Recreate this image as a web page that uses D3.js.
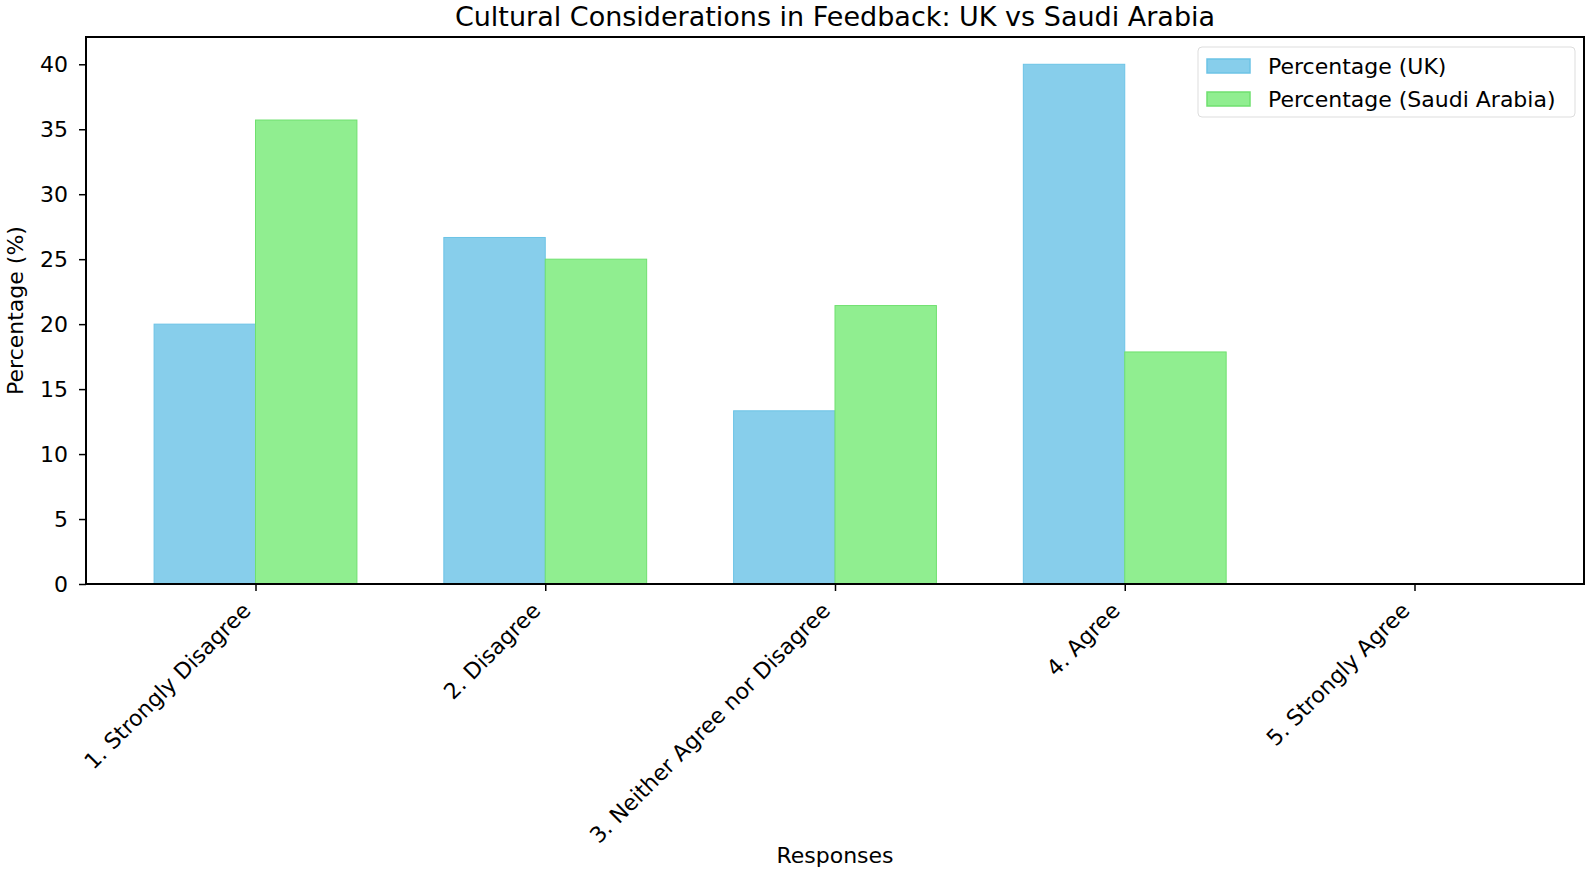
<!DOCTYPE html>
<html><head><meta charset="utf-8">
<script src="https://cdn.jsdelivr.net/npm/d3@7"></script>
<style>body{margin:0;background:#fff;} text{font-family:"DejaVu Sans",sans-serif;fill:#000;}</style>
</head><body>
<svg id="chart" width="1594" height="872"></svg>
<script>
const categories = ["1. Strongly Disagree","2. Disagree","3. Neither Agree nor Disagree","4. Agree","5. Strongly Agree"];
const ukValues = [20.0, 26.67, 13.33, 40.0, 0];
const saValues = [35.71, 25.0, 21.43, 17.86, 0];
const seriesNames = ["Percentage (UK)","Percentage (Saudi Arabia)"];
const seriesColors = ["#87CEEB","#90EE90"];
const seriesEdges = ["#6cc3e6","#6fe06f"];
const yTicks = [0,5,10,15,20,25,30,35,40];

const W=1594,H=872, m={left:86,right:10,top:37,bottom:288};
const svg=d3.select("#chart");
const iw=W-m.left-m.right, ih=H-m.top-m.bottom;
const g=svg.append("g").attr("transform",`translate(${m.left},${m.top})`);
const barW=0.35;
const x=d3.scaleLinear().domain([-0.585,4.585]).range([0,iw]);
const y=d3.scaleLinear().domain([0,42.1]).range([ih,0]);

const series=[ukValues,saValues];
series.forEach((vals,si)=>{
  g.selectAll(".bar"+si).data(vals).enter().append("rect")
   .attr("x",(d,i)=>x(i+(si===0?-barW:0)))
   .attr("width",x(barW)-x(0))
   .attr("y",d=>y(d)).attr("height",d=>y(0)-y(d))
   .attr("fill",seriesColors[si]).attr("stroke",seriesEdges[si]).attr("stroke-width",d=>d>0?1:0);
});

const fs=22;
const yAxis=g.append("g").call(d3.axisLeft(y).tickValues(yTicks).tickSize(7).tickPadding(11));
yAxis.selectAll("text").style("font-size",fs+"px");
const xAxis=g.append("g").attr("transform",`translate(0,${ih})`).call(d3.axisBottom(x).tickValues(d3.range(categories.length)).tickFormat(i=>categories[i]).tickSize(7));
xAxis.selectAll("text").style("font-size",fs+"px").attr("text-anchor","end")
  .attr("x",0).attr("y",0).attr("dy",0).attr("transform","translate(-4,28) rotate(-45)");
[yAxis,xAxis].forEach(a=>{a.select(".domain").remove();a.selectAll("line").attr("stroke","#000").attr("stroke-width",1.5);});
g.append("rect").attr("width",iw).attr("height",ih).attr("fill","none").attr("stroke","#000").attr("stroke-width",2);

svg.append("text").attr("x",m.left+iw/2).attr("y",26).attr("text-anchor","middle").style("font-size","27px")
  .text("Cultural Considerations in Feedback: UK vs Saudi Arabia");
svg.append("text").attr("x",m.left+iw/2).attr("y",863).attr("text-anchor","middle").style("font-size",fs+"px").text("Responses");
svg.append("text").attr("transform",`translate(23,${m.top+ih/2}) rotate(-90)`).attr("text-anchor","middle").style("font-size",fs+"px").text("Percentage (%)");

const lg=svg.append("g").attr("transform","translate(1198,47)");
lg.append("rect").attr("width",377).attr("height",70).attr("rx",4).attr("fill","#fff").attr("stroke","#ddd");
seriesNames.forEach((n,i)=>{
  lg.append("rect").attr("x",9).attr("y",12+i*33).attr("width",43).attr("height",14).attr("fill",seriesColors[i]).attr("stroke",seriesEdges[i]).attr("stroke-width",1.5);
  lg.append("text").attr("x",70).attr("y",19+i*33).attr("dy","0.35em").style("font-size",fs+"px").text(n);
});
</script></body></html>
